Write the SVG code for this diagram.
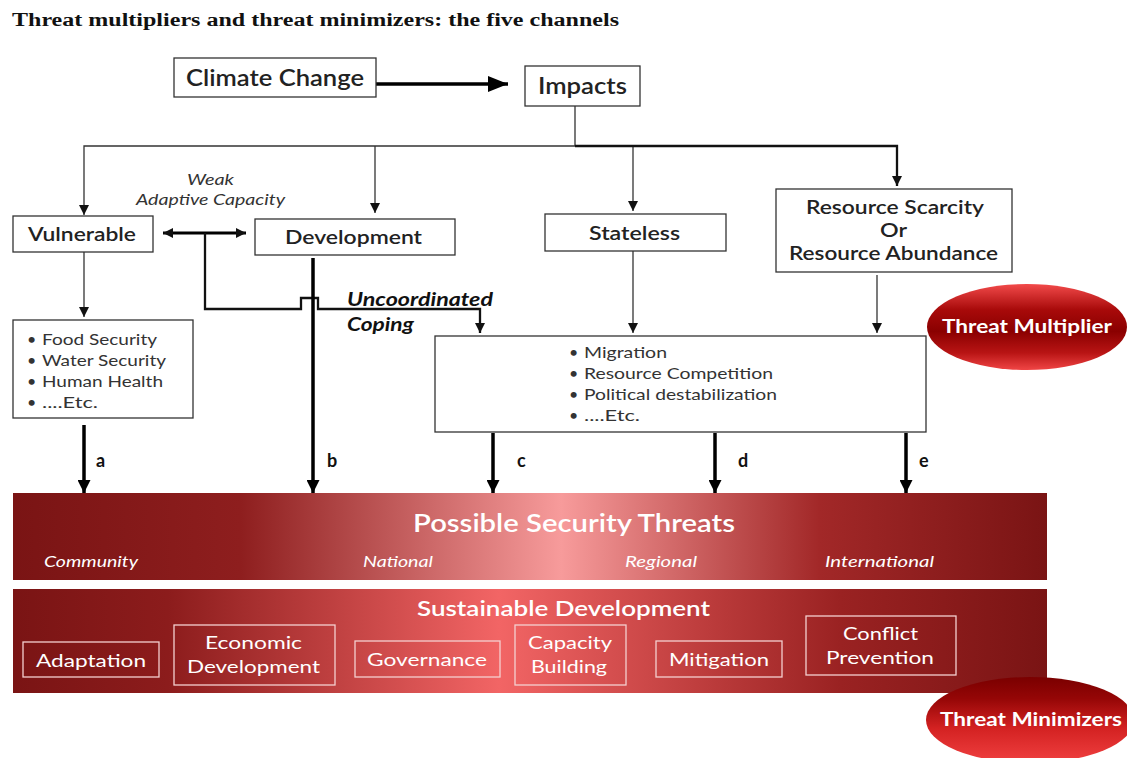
<svg xmlns="http://www.w3.org/2000/svg" width="1127" height="758" viewBox="0 0 1127 758">
<defs>
<style>
text{font-family:Lato,"Open Sans",sans-serif}
.box{fill:#fff;stroke:#333;stroke-width:1.3}
.lbl{fill:#222}
.big{font-size:22px;font-weight:600}
.med{font-size:19px;font-weight:600}
.item{font-size:16px;fill:#333}
.thin{fill:none;stroke:#333;stroke-width:1.3}
.thick{fill:none;stroke:#000;stroke-width:3.5}
.mid{fill:none;stroke:#111;stroke-width:2.3}
.wt{fill:#fff}
.wbox{fill:none;stroke:#f4d0d0;stroke-width:1.3}
.let{font-size:18px;font-weight:700;fill:#111}
</style>
<marker id="as" viewBox="0 0 10 10" refX="10" refY="5" markerWidth="10" markerHeight="10" orient="auto-start-reverse" markerUnits="userSpaceOnUse"><path d="M0,0 L10,5 L0,10 z" fill="#111"/></marker>
<marker id="ab" viewBox="0 0 10 10" refX="10" refY="5" markerWidth="13" markerHeight="13" orient="auto-start-reverse" markerUnits="userSpaceOnUse"><path d="M0,0 L10,5 L0,10 z" fill="#000"/></marker>
<marker id="ax" viewBox="0 0 10 10" refX="10" refY="5" markerWidth="20" markerHeight="16" orient="auto-start-reverse" markerUnits="userSpaceOnUse" preserveAspectRatio="none"><path d="M0,0 L10,5 L0,10 z" fill="#000"/></marker>
<linearGradient id="g1" x1="0" y1="0" x2="1" y2="0">
<stop offset="0" stop-color="#7a1414"/><stop offset="0.22" stop-color="#8e1e1e"/><stop offset="0.53" stop-color="#f79b9b"/><stop offset="0.78" stop-color="#a22828"/><stop offset="1" stop-color="#7a1414"/>
</linearGradient>
<linearGradient id="g2" x1="0" y1="0" x2="1" y2="0">
<stop offset="0" stop-color="#7a1414"/><stop offset="0.15" stop-color="#8c1c1c"/><stop offset="0.47" stop-color="#f26565"/><stop offset="0.8" stop-color="#9a2222"/><stop offset="1" stop-color="#7a1414"/>
</linearGradient>
<linearGradient id="e1" x1="0" y1="0" x2="0" y2="1">
<stop offset="0" stop-color="#f24a4a"/><stop offset="0.3" stop-color="#a80a0a"/><stop offset="0.55" stop-color="#8a0000"/><stop offset="0.8" stop-color="#b81414"/><stop offset="1" stop-color="#f04545"/>
</linearGradient>
<linearGradient id="e2" x1="0" y1="0" x2="0" y2="1">
<stop offset="0" stop-color="#7a0000"/><stop offset="0.25" stop-color="#950606"/><stop offset="0.6" stop-color="#d42222"/><stop offset="1" stop-color="#f04040"/>
</linearGradient>
</defs>
<rect width="1127" height="758" fill="#fff"/>
<text x="12" y="26" style="font-family:'Liberation Serif',serif" font-size="18" font-weight="700" fill="#111" textLength="607" lengthAdjust="spacingAndGlyphs">Threat multipliers and threat minimizers: the five channels</text>

<g id="connectors">
<path class="thick" d="M376,84 L508,84" marker-end="url(#ax)"/>
<path class="thin" d="M575,106 V146 H84 V215" marker-end="url(#as)"/>
<path class="thin" d="M375,146 V213" marker-end="url(#as)"/>
<path class="thin" d="M633,146 V211" marker-end="url(#as)"/>
<path class="mid" d="M575,146 H897 V186" marker-end="url(#as)"/>
<path class="mid" d="M163,233 H246" marker-start="url(#as)" marker-end="url(#as)" style="stroke:#000;stroke-width:3"/>
<path class="thin" d="M84,252 V317" marker-end="url(#as)"/>
<path class="mid" d="M205,233 V309 H301 V298 H318 V309 H480 V333" marker-end="url(#as)"/>
<path class="thin" d="M633,251 V333" marker-end="url(#as)"/>
<path class="thin" d="M877,275 V333" marker-end="url(#as)"/>
<path class="thick" d="M313,258 V493" marker-end="url(#ab)"/>
<path class="thick" d="M84,425 V493" marker-end="url(#ab)"/>
<path class="thick" d="M493,433 V493" marker-end="url(#ab)"/>
<path class="thick" d="M715,433 V493" marker-end="url(#ab)"/>
<path class="thick" d="M906,433 V493" marker-end="url(#ab)"/>
<text class="let" x="96" y="467">a</text>
<text class="let" x="327" y="467">b</text>
<text class="let" x="517" y="467">c</text>
<text class="let" x="738" y="467">d</text>
<text class="let" x="919" y="467">e</text>
<text x="187" y="185" font-size="16" font-style="italic" fill="#333" textLength="47" lengthAdjust="spacingAndGlyphs">Weak</text>
<text x="136" y="205" font-size="16" font-style="italic" fill="#333" textLength="149" lengthAdjust="spacingAndGlyphs">Adaptive Capacity</text>
<text x="347" y="306" font-size="18" font-style="italic" font-weight="700" fill="#111" textLength="146" lengthAdjust="spacingAndGlyphs">Uncoordinated</text>
<text x="347" y="331" font-size="18" font-style="italic" font-weight="700" fill="#111" textLength="67" lengthAdjust="spacingAndGlyphs">Coping</text>
</g>

<g id="climate"><rect class="box" x="174" y="58" width="202" height="39"/><text class="lbl big" x="186" y="86" textLength="178" lengthAdjust="spacingAndGlyphs">Climate Change</text></g>
<g id="impacts"><rect class="box" x="525" y="66" width="115" height="40"/><text class="lbl big" x="538" y="94" textLength="89" lengthAdjust="spacingAndGlyphs">Impacts</text></g>
<g id="vulnerable"><rect class="box" x="13" y="216" width="140" height="36"/><text class="lbl med" x="28" y="241" textLength="108" lengthAdjust="spacingAndGlyphs">Vulnerable</text></g>
<g id="development"><rect class="box" x="255" y="219" width="200" height="36"/><text class="lbl med" x="285" y="244" textLength="137" lengthAdjust="spacingAndGlyphs">Development</text></g>
<g id="stateless"><rect class="box" x="545" y="214" width="181" height="37"/><text class="lbl med" x="589" y="240" textLength="91" lengthAdjust="spacingAndGlyphs">Stateless</text></g>
<g id="resource"><rect class="box" x="776" y="189" width="236" height="83"/>
<text class="lbl med" x="806" y="214" textLength="178" lengthAdjust="spacingAndGlyphs">Resource Scarcity</text><text class="lbl med" x="880" y="237" textLength="27" lengthAdjust="spacingAndGlyphs">Or</text><text class="lbl med" x="789" y="260" textLength="209" lengthAdjust="spacingAndGlyphs">Resource Abundance</text></g>
<g id="vlist"><rect class="box" x="13" y="320" width="180" height="98"/>
<g class="item"><text x="27" y="345">•</text><text x="27" y="366">•</text><text x="27" y="387">•</text><text x="27" y="408">•</text></g>
<text class="item" x="42" y="345" textLength="115" lengthAdjust="spacingAndGlyphs">Food Security</text><text class="item" x="42" y="366" textLength="124" lengthAdjust="spacingAndGlyphs">Water Security</text><text class="item" x="42" y="387" textLength="121" lengthAdjust="spacingAndGlyphs">Human Health</text><text class="item" x="42" y="408" textLength="56" lengthAdjust="spacingAndGlyphs">....Etc.</text></g>
<g id="mlist"><rect class="box" x="435" y="336" width="491" height="96"/>
<g class="item"><text x="569" y="358">•</text><text x="569" y="379">•</text><text x="569" y="400">•</text><text x="569" y="421">•</text></g>
<text class="item" x="584" y="358" textLength="83" lengthAdjust="spacingAndGlyphs">Migration</text><text class="item" x="584" y="379" textLength="189" lengthAdjust="spacingAndGlyphs">Resource Competition</text><text class="item" x="584" y="400" textLength="193" lengthAdjust="spacingAndGlyphs">Political destabilization</text><text class="item" x="584" y="421" textLength="56" lengthAdjust="spacingAndGlyphs">....Etc.</text></g>

<g id="threat-multiplier"><ellipse cx="1027" cy="327" rx="100" ry="43" fill="url(#e1)"/><text class="wt" x="942" y="333" font-size="18" font-weight="700" textLength="170" lengthAdjust="spacingAndGlyphs">Threat Multiplier</text></g>

<g id="security-threats"><rect x="13" y="493" width="1034" height="87" fill="url(#g1)"/>
<text class="wt" x="413" y="532" font-size="24" font-weight="600" textLength="322" lengthAdjust="spacingAndGlyphs">Possible Security Threats</text>
<g font-size="15" font-style="italic" fill="#fff"><text x="44" y="567" textLength="94" lengthAdjust="spacingAndGlyphs">Community</text><text x="363" y="567" textLength="70" lengthAdjust="spacingAndGlyphs">National</text><text x="625" y="567" textLength="72" lengthAdjust="spacingAndGlyphs">Regional</text><text x="825" y="567" textLength="109" lengthAdjust="spacingAndGlyphs">International</text></g></g>

<g id="sustainable"><rect x="13" y="589" width="1034" height="104" fill="url(#g2)"/>
<text class="wt" x="417" y="616" font-size="21" font-weight="600" textLength="293" lengthAdjust="spacingAndGlyphs">Sustainable Development</text>
<g font-size="18"><rect class="wbox" x="23" y="642" width="136" height="35"/><text class="wt" x="36" y="667" textLength="110" lengthAdjust="spacingAndGlyphs">Adaptation</text>
<rect class="wbox" x="174" y="625" width="161" height="60"/><text class="wt" x="205" y="649" textLength="97" lengthAdjust="spacingAndGlyphs">Economic</text><text class="wt" x="187" y="673" textLength="133" lengthAdjust="spacingAndGlyphs">Development</text>
<rect class="wbox" x="355" y="641" width="145" height="36"/><text class="wt" x="367" y="666" textLength="120" lengthAdjust="spacingAndGlyphs">Governance</text>
<rect class="wbox" x="515" y="625" width="111" height="60"/><text class="wt" x="528" y="649" textLength="84" lengthAdjust="spacingAndGlyphs">Capacity</text><text class="wt" x="531" y="673" textLength="76" lengthAdjust="spacingAndGlyphs">Building</text>
<rect class="wbox" x="656" y="641" width="126" height="36"/><text class="wt" x="669" y="666" textLength="100" lengthAdjust="spacingAndGlyphs">Mitigation</text>
<rect class="wbox" x="806" y="616" width="150" height="59"/><text class="wt" x="843" y="640" textLength="75" lengthAdjust="spacingAndGlyphs">Conflict</text><text class="wt" x="826" y="664" textLength="108" lengthAdjust="spacingAndGlyphs">Prevention</text></g></g>

<g id="threat-minimizers"><ellipse cx="1030" cy="720" rx="104" ry="43" fill="url(#e2)"/><text class="wt" x="940" y="726" font-size="18" font-weight="700" textLength="182" lengthAdjust="spacingAndGlyphs">Threat Minimizers</text></g>
</svg>
